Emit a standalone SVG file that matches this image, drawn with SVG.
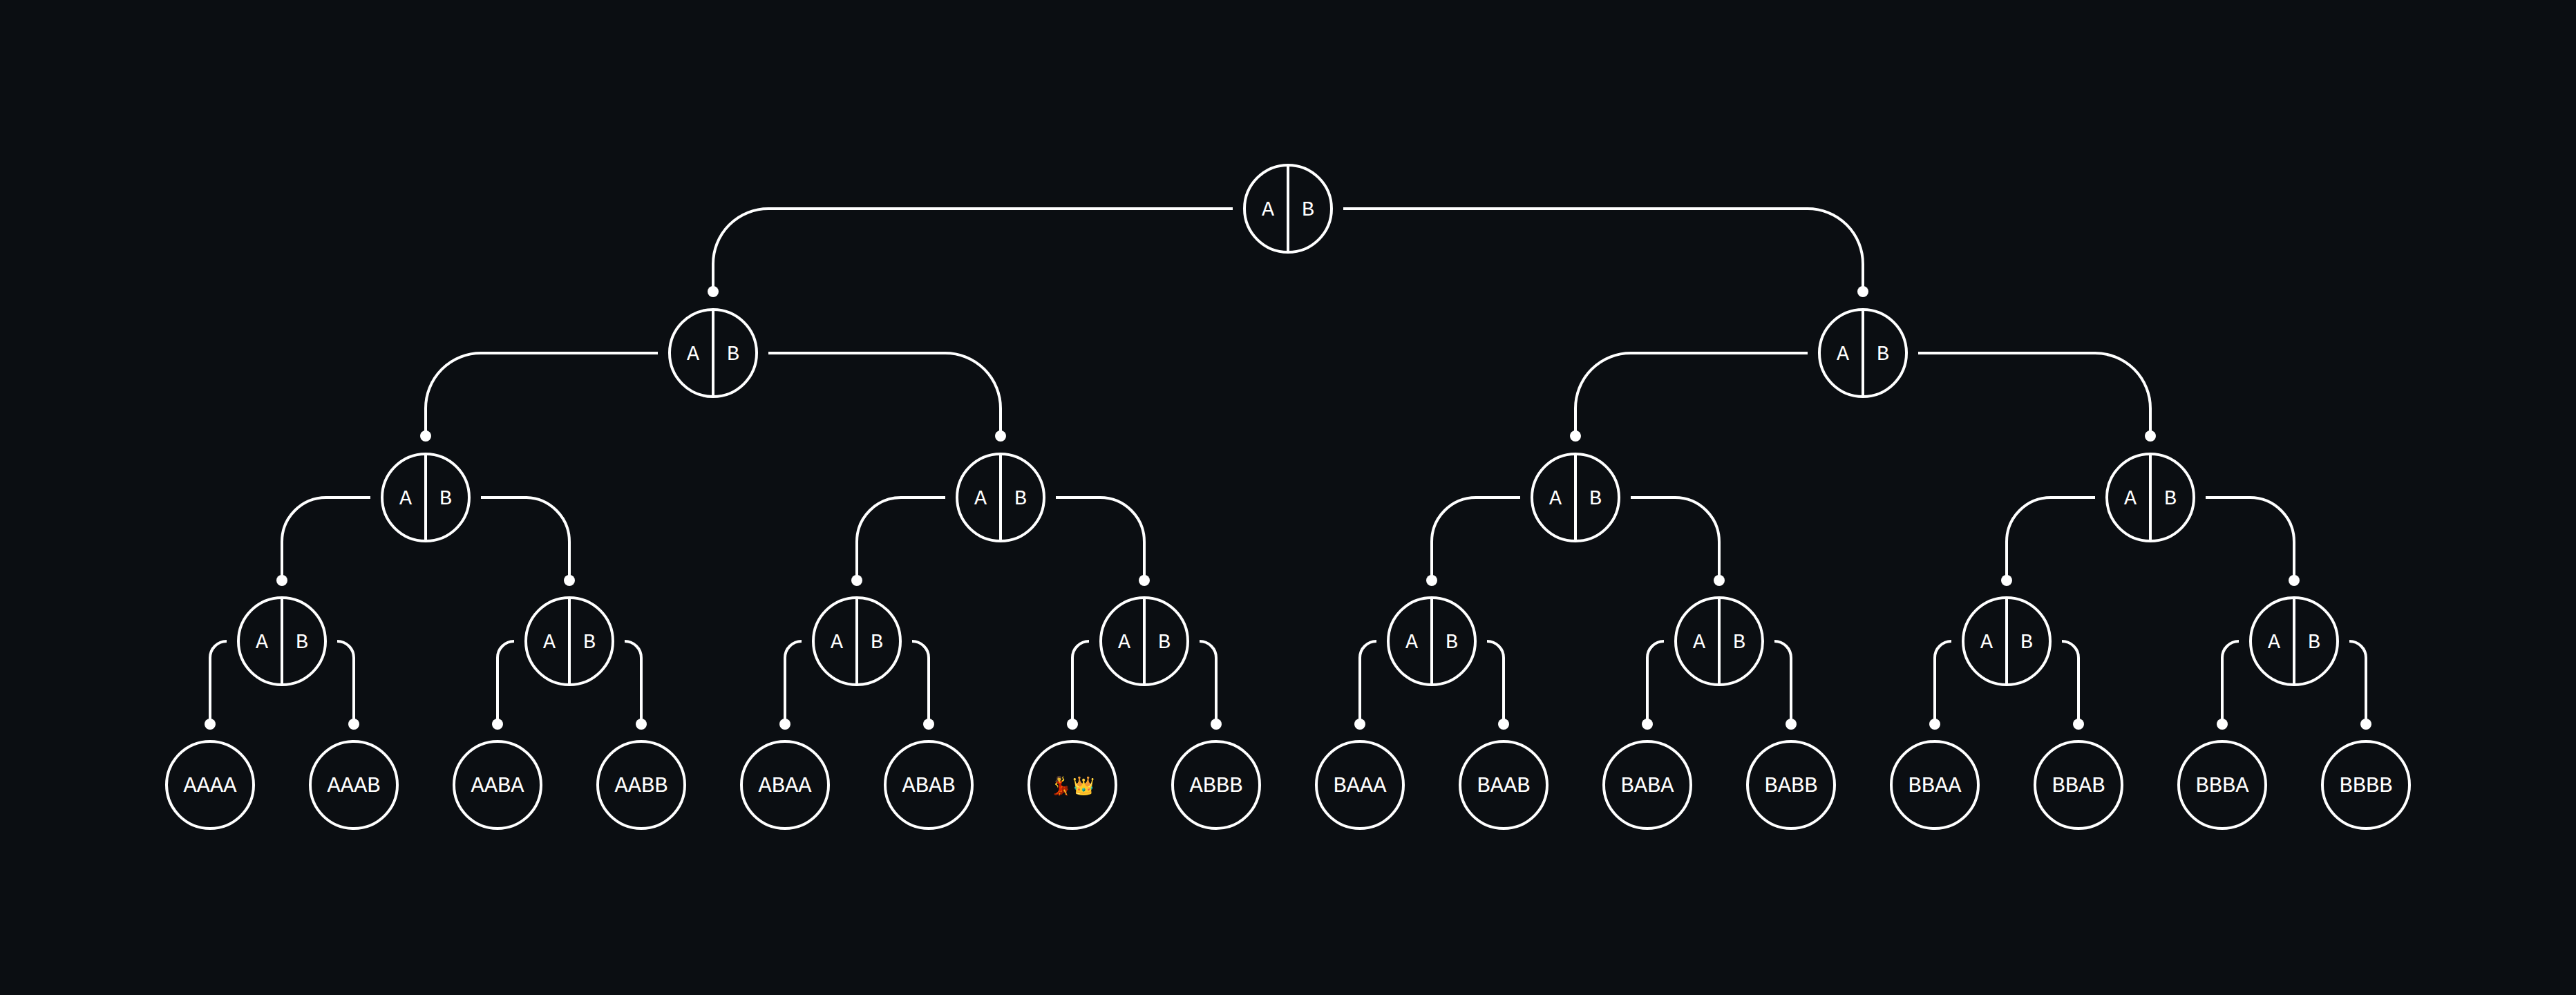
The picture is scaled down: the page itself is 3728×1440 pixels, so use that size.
<svg xmlns="http://www.w3.org/2000/svg" width="3728" height="1440" viewBox="0 0 3728 1440">
<style>
.c{fill:none;stroke:#fff;stroke-width:4}
text{font-family:"Liberation Mono","Courier New","DejaVu Sans Mono",monospace}
.t{fill:#fff;font-size:30px;text-anchor:middle;dominant-baseline:central}
.l{font-size:32px}
.e{fill:none;stroke:#fff;stroke-width:4}
.d{fill:#fff}
</style>
<defs>
<g id="ab"><circle class="c" r="63"/><line class="c" x1="0" y1="-63" x2="0" y2="63"/><text class="t" x="-29" y="2" font-family="Liberation Mono, monospace">A</text><text class="t" x="29" y="2" font-family="Liberation Mono, monospace">B</text></g>
</defs>
<rect width="3728" height="1440" fill="#0b0e12"/>
<g id="connectors">
<path class="e" d="M1784 302 H1112 A80 80 0 0 0 1032 382 V422 M1944 302 H2616 A80 80 0 0 1 2696 382 V422"/>
<path class="e" d="M952 511 H696 A80 80 0 0 0 616 591 V631 M1112 511 H1368 A80 80 0 0 1 1448 591 V631"/>
<path class="e" d="M2616 511 H2360 A80 80 0 0 0 2280 591 V631 M2776 511 H3032 A80 80 0 0 1 3112 591 V631"/>
<path class="e" d="M536 720 H472 A64 64 0 0 0 408 784 V840 M696 720 H760 A64 64 0 0 1 824 784 V840"/>
<path class="e" d="M1368 720 H1304 A64 64 0 0 0 1240 784 V840 M1528 720 H1592 A64 64 0 0 1 1656 784 V840"/>
<path class="e" d="M2200 720 H2136 A64 64 0 0 0 2072 784 V840 M2360 720 H2424 A64 64 0 0 1 2488 784 V840"/>
<path class="e" d="M3032 720 H2968 A64 64 0 0 0 2904 784 V840 M3192 720 H3256 A64 64 0 0 1 3320 784 V840"/>
<g id="lc">
<path class="e" d="M328 928 A24 24 0 0 0 304 952 V1048 M488 928 A24 24 0 0 1 512 952 V1048"/>
<circle class="d" cx="304" cy="1048" r="8"/><circle class="d" cx="512" cy="1048" r="8"/>
</g>
<use href="#lc" x="416"/><use href="#lc" x="832"/><use href="#lc" x="1248"/><use href="#lc" x="1664"/><use href="#lc" x="2080"/><use href="#lc" x="2496"/><use href="#lc" x="2912"/>
<g class="d">
<circle cx="1032" cy="422" r="8"/><circle cx="2696" cy="422" r="8"/>
<circle cx="616" cy="631" r="8"/><circle cx="1448" cy="631" r="8"/><circle cx="2280" cy="631" r="8"/><circle cx="3112" cy="631" r="8"/>
<circle cx="408" cy="840" r="8"/><circle cx="824" cy="840" r="8"/><circle cx="1240" cy="840" r="8"/><circle cx="1656" cy="840" r="8"/><circle cx="2072" cy="840" r="8"/><circle cx="2488" cy="840" r="8"/><circle cx="2904" cy="840" r="8"/><circle cx="3320" cy="840" r="8"/>
</g>
</g>
<g id="root"><use href="#ab" x="1864" y="302"/></g>
<g id="n1a"><use href="#ab" x="1032" y="511"/></g>
<g id="n1b"><use href="#ab" x="2696" y="511"/></g>
<g id="n2a"><use href="#ab" x="616" y="720"/></g>
<g id="n2b"><use href="#ab" x="1448" y="720"/></g>
<g id="n2c"><use href="#ab" x="2280" y="720"/></g>
<g id="n2d"><use href="#ab" x="3112" y="720"/></g>
<g id="n3a"><use href="#ab" x="408" y="928"/></g>
<g id="n3b"><use href="#ab" x="824" y="928"/></g>
<g id="n3c"><use href="#ab" x="1240" y="928"/></g>
<g id="n3d"><use href="#ab" x="1656" y="928"/></g>
<g id="n3e"><use href="#ab" x="2072" y="928"/></g>
<g id="n3f"><use href="#ab" x="2488" y="928"/></g>
<g id="n3g"><use href="#ab" x="2904" y="928"/></g>
<g id="n3h"><use href="#ab" x="3320" y="928"/></g>
<g font-family="Liberation Mono, monospace">
<g id="AAAA"><circle class="c" cx="304" cy="1136" r="63"/><text class="t l" x="304" y="1137">AAAA</text></g>
<g id="AAAB"><circle class="c" cx="512" cy="1136" r="63"/><text class="t l" x="512" y="1137">AAAB</text></g>
<g id="AABA"><circle class="c" cx="720" cy="1136" r="63"/><text class="t l" x="720" y="1137">AABA</text></g>
<g id="AABB"><circle class="c" cx="928" cy="1136" r="63"/><text class="t l" x="928" y="1137">AABB</text></g>
<g id="ABAA"><circle class="c" cx="1136" cy="1136" r="63"/><text class="t l" x="1136" y="1137">ABAA</text></g>
<g id="ABAB"><circle class="c" cx="1344" cy="1136" r="63"/><text class="t l" x="1344" y="1137">ABAB</text></g>
<g id="ABBA"><circle class="c" cx="1552" cy="1136" r="63"/><text class="t" x="1552" y="1137" style="font-family:'Noto Color Emoji','Noto Sans',sans-serif;font-size:26px">💃👑</text></g>
<g id="ABBB"><circle class="c" cx="1760" cy="1136" r="63"/><text class="t l" x="1760" y="1137">ABBB</text></g>
<g id="BAAA"><circle class="c" cx="1968" cy="1136" r="63"/><text class="t l" x="1968" y="1137">BAAA</text></g>
<g id="BAAB"><circle class="c" cx="2176" cy="1136" r="63"/><text class="t l" x="2176" y="1137">BAAB</text></g>
<g id="BABA"><circle class="c" cx="2384" cy="1136" r="63"/><text class="t l" x="2384" y="1137">BABA</text></g>
<g id="BABB"><circle class="c" cx="2592" cy="1136" r="63"/><text class="t l" x="2592" y="1137">BABB</text></g>
<g id="BBAA"><circle class="c" cx="2800" cy="1136" r="63"/><text class="t l" x="2800" y="1137">BBAA</text></g>
<g id="BBAB"><circle class="c" cx="3008" cy="1136" r="63"/><text class="t l" x="3008" y="1137">BBAB</text></g>
<g id="BBBA"><circle class="c" cx="3216" cy="1136" r="63"/><text class="t l" x="3216" y="1137">BBBA</text></g>
<g id="BBBB"><circle class="c" cx="3424" cy="1136" r="63"/><text class="t l" x="3424" y="1137">BBBB</text></g>
</g>
</svg>
